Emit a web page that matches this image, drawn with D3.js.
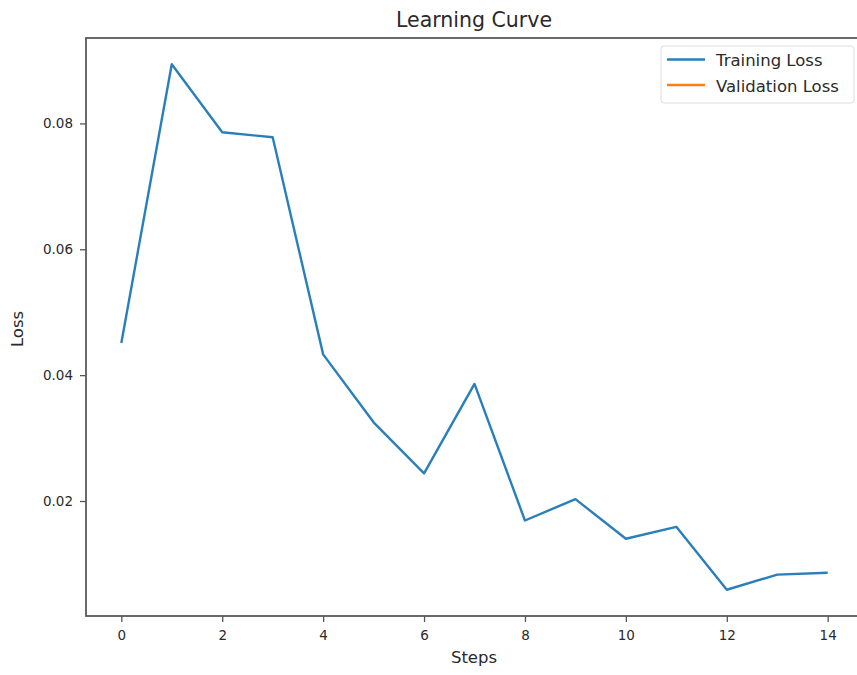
<!DOCTYPE html>
<html>
<head>
<meta charset="utf-8">
<script src="https://cdn.jsdelivr.net/npm/d3@7"></script>
<style>
  body { margin: 0; background: #fff; }
  svg { display: block; }
  text { font-family: "DejaVu Sans", sans-serif; fill: #2a2a2a; }
</style>
</head>
<body>
<svg id="chart" width="857" height="675"></svg>
<script>
const steps = [0, 1, 2, 3, 4, 5, 6, 7, 8, 9, 10, 11, 12, 13, 14];
const trainingLoss = [0.0451, 0.0894, 0.0786, 0.0778, 0.0433, 0.0325, 0.0244, 0.0386, 0.0169, 0.0203, 0.0140, 0.0159, 0.0059, 0.0083, 0.0086];
const validationLoss = [];
const xTicks = [0, 2, 4, 6, 8, 10, 12, 14];
const yTicks = [0.02, 0.04, 0.06, 0.08];
const seriesNames = ["Training Loss", "Validation Loss"];
const seriesColors = ["#2a7fba", "#ff7f0e"];

const svg = d3.select("#chart");
const pLeft = 86, pRight = 863, pTop = 38, pBottom = 616;

const x = d3.scaleLinear().domain([-0.7, 14.7]).range([pLeft, pRight]);
const yMin = d3.min(trainingLoss), yMax = d3.max(trainingLoss);
const pad = (yMax - yMin) * 0.05;
const y = d3.scaleLinear().domain([yMin - pad, yMax + pad]).range([pBottom, pTop]);

// data line
const line = d3.line().x((d, i) => x(steps[i])).y(d => y(d));
svg.append("path")
  .datum(trainingLoss)
  .attr("fill", "none")
  .attr("stroke", seriesColors[0])
  .attr("stroke-width", 2.4)
  .attr("stroke-linejoin", "round")
  .attr("d", line);

// axes
const xAxis = d3.axisBottom(x).tickValues(xTicks).tickFormat(d3.format("d")).tickSize(6).tickPadding(8);
const yAxis = d3.axisLeft(y).tickValues(yTicks).tickFormat(d3.format(".2f")).tickSize(6).tickPadding(7);

const gx = svg.append("g").attr("transform", `translate(0,${pBottom})`).call(xAxis);
const gy = svg.append("g").attr("transform", `translate(${pLeft},0)`).call(yAxis);
[gx, gy].forEach(g => {
  g.select(".domain").remove();
  g.selectAll(".tick line").attr("stroke", "#555").attr("stroke-width", 1.3);
  g.selectAll(".tick text").attr("font-size", 13.5).attr("fill", "#2a2a2a")
    .style("font-family", "'DejaVu Sans', sans-serif");
});

// frame
svg.append("rect")
  .attr("x", pLeft).attr("y", pTop)
  .attr("width", pRight - pLeft).attr("height", pBottom - pTop)
  .attr("fill", "none").attr("stroke", "#5a5a5a").attr("stroke-width", 1.8);

// title & labels
svg.append("text").attr("x", 474).attr("y", 27)
  .attr("text-anchor", "middle").attr("font-size", 20.5).text("Learning Curve");
svg.append("text").attr("x", 474).attr("y", 663)
  .attr("text-anchor", "middle").attr("font-size", 16.5).text("Steps");
svg.append("text").attr("transform", `translate(23,329) rotate(-90)`)
  .attr("text-anchor", "middle").attr("font-size", 16.5).text("Loss");

// legend
const lg = svg.append("g");
lg.append("rect").attr("x", 661).attr("y", 46).attr("width", 193).attr("height", 57)
  .attr("rx", 3).attr("fill", "#fff").attr("stroke", "#ddd").attr("stroke-width", 1);
seriesNames.forEach((name, i) => {
  const yy = 59.5 + i * 25.5;
  lg.append("line").attr("x1", 667).attr("x2", 705).attr("y1", yy).attr("y2", yy)
    .attr("stroke", seriesColors[i]).attr("stroke-width", 2.4);
  lg.append("text").attr("x", 716).attr("y", yy + 6.5).attr("font-size", 16.5).text(name);
});
</script>
</body>
</html>
